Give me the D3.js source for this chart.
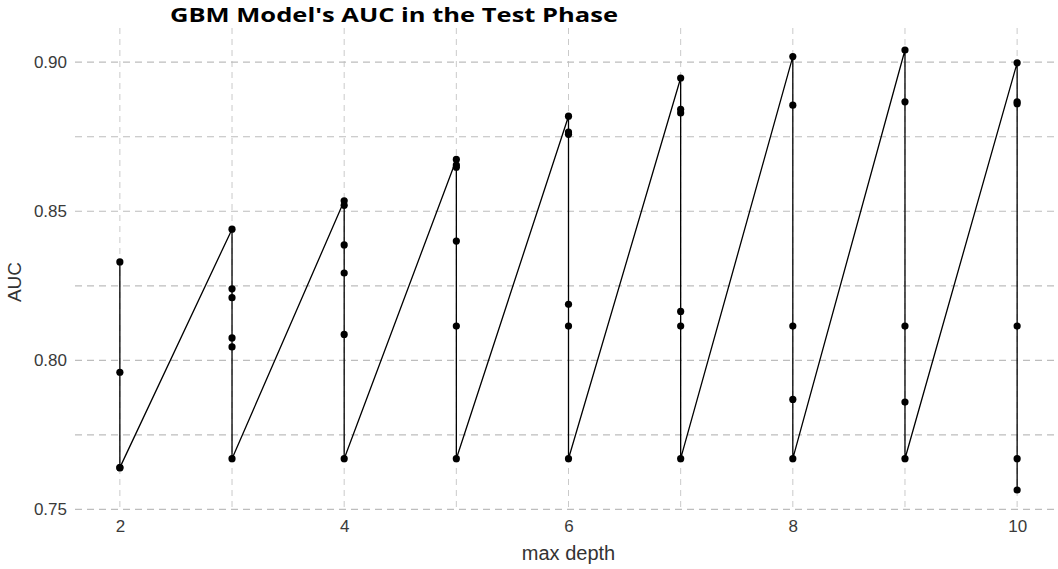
<!DOCTYPE html>
<html>
<head>
<meta charset="utf-8">
<script src="https://cdn.jsdelivr.net/npm/d3@7"></script>
<style>
  body { margin: 0; background: #fff; }
  svg { display: block; }
</style>
</head>
<body>
<svg id="vis_auc" width="1058" height="569"></svg>
<script>
// AUC per max depth, listed in the order the line visits them
var maxDepth = [2, 2, 2, 2,
  3, 3, 3, 3, 3, 3,
  4, 4, 4, 4, 4, 4,
  5, 5, 5, 5, 5, 5,
  6, 6, 6, 6, 6, 6,
  7, 7, 7, 7, 7, 7,
  8, 8, 8, 8, 8,
  9, 9, 9, 9, 9,
  10, 10, 10, 10, 10, 10];
var auc = [0.833, 0.796, 0.764, 0.764,
  0.844, 0.824, 0.821, 0.8075, 0.8045, 0.767,
  0.8535, 0.852, 0.8387, 0.8293, 0.8087, 0.767,
  0.8674, 0.8655, 0.8648, 0.840, 0.8115, 0.767,
  0.8819, 0.8766, 0.8758, 0.8188, 0.8115, 0.767,
  0.8947, 0.8842, 0.8830, 0.8164, 0.8115, 0.767,
  0.9019, 0.8856, 0.8115, 0.7869, 0.767,
  0.9041, 0.8867, 0.8115, 0.7860, 0.767,
  0.8998, 0.8867, 0.8861, 0.8115, 0.767, 0.7565];

var xTicks = [2, 4, 6, 8, 10];
var xMinor = [3, 5, 7, 9];
var yTicks = [0.75, 0.80, 0.85, 0.90];
var yMinor = [0.775, 0.825, 0.875];

function vis_auc() {
  var svg = d3.select("#vis_auc");
  var left = 75, right = 1062, top = 28, bottom = 512;

  var data = maxDepth.map(function(d, i) { return { x: d, y: auc[i] }; });

  // ggplot-like 5% expansion
  var xe = d3.extent(maxDepth), ye = d3.extent(auc);
  var xp = (xe[1] - xe[0]) * 0.05, yp = (ye[1] - ye[0]) * 0.05;

  var x = d3.scaleLinear().domain([xe[0] - xp, xe[1] + xp]).range([left, right]);
  var y = d3.scaleLinear().domain([ye[0] - yp, ye[1] + yp]).range([bottom, top]);

  var grid = svg.append("g");

  // vertical grid
  grid.selectAll(".vx")
    .data(xTicks.concat(xMinor))
    .enter().append("line")
      .attr("x1", function(d) { return x(d); })
      .attr("x2", function(d) { return x(d); })
      .attr("y1", top)
      .attr("y2", bottom)
      .style("stroke", "#cacaca")
      .style("stroke-width", 1)
      .style("stroke-dasharray", "6,5");

  // horizontal grid
  grid.selectAll(".hy")
    .data(yTicks.concat(yMinor))
    .enter().append("line")
      .attr("x1", left)
      .attr("x2", right)
      .attr("y1", function(d) { return y(d); })
      .attr("y2", function(d) { return y(d); })
      .style("stroke", "#bdbdbd")
      .style("stroke-width", 1.2)
      .style("stroke-dasharray", "7,5");

  // axes (text only, like theme_minimal)
  var xAxis = svg.append("g")
    .attr("transform", "translate(0," + bottom + ")")
    .call(d3.axisBottom(x).tickValues(xTicks).tickSize(0).tickPadding(8).tickFormat(d3.format("d")));
  var yAxis = svg.append("g")
    .attr("transform", "translate(" + left + ",0)")
    .call(d3.axisLeft(y).tickValues(yTicks).tickSize(0).tickPadding(8).tickFormat(d3.format(".2f")));

  [xAxis, yAxis].forEach(function(a) {
    a.select(".domain").remove();
    a.selectAll("text")
      .style("font-family", "'Liberation Sans', Arial, sans-serif")
      .style("font-size", "17px")
      .style("fill", "#3a3a3a");
  });

  // the line
  var line = d3.line()
    .x(function(d) { return x(d.x); })
    .y(function(d) { return y(d.y); });

  svg.append("path")
    .datum(data)
    .attr("d", line)
    .style("fill", "none")
    .style("stroke", "#000")
    .style("stroke-width", 1.3);

  svg.append("g")
    .selectAll("circle")
    .data(data)
    .enter().append("circle")
      .attr("cx", function(d) { return x(d.x); })
      .attr("cy", function(d) { return y(d.y); })
      .attr("r", 3.6)
      .style("fill", "#000");

  // titles
  svg.append("text")
    .attr("x", 170)
    .attr("y", 21.5)
    .attr("textLength", 448)
    .attr("lengthAdjust", "spacingAndGlyphs")
    .text("GBM Model's AUC in the Test Phase")
    .style("font-family", "'Open Sans', sans-serif")
    .style("font-weight", "bold")
    .style("font-size", "20px")
    .style("fill", "#000");

  svg.append("text")
    .attr("x", (left + right) / 2)
    .attr("y", 560)
    .attr("text-anchor", "middle")
    .text("max depth")
    .style("font-family", "'Liberation Sans', Arial, sans-serif")
    .style("font-size", "20px")
    .style("fill", "#333");

  svg.append("text")
    .attr("transform", "translate(21,282) rotate(-90)")
    .attr("text-anchor", "middle")
    .text("AUC")
    .style("font-family", "'Liberation Sans', Arial, sans-serif")
    .style("font-size", "19px")
    .style("fill", "#333");
}

vis_auc();
</script>
</body>
</html>
